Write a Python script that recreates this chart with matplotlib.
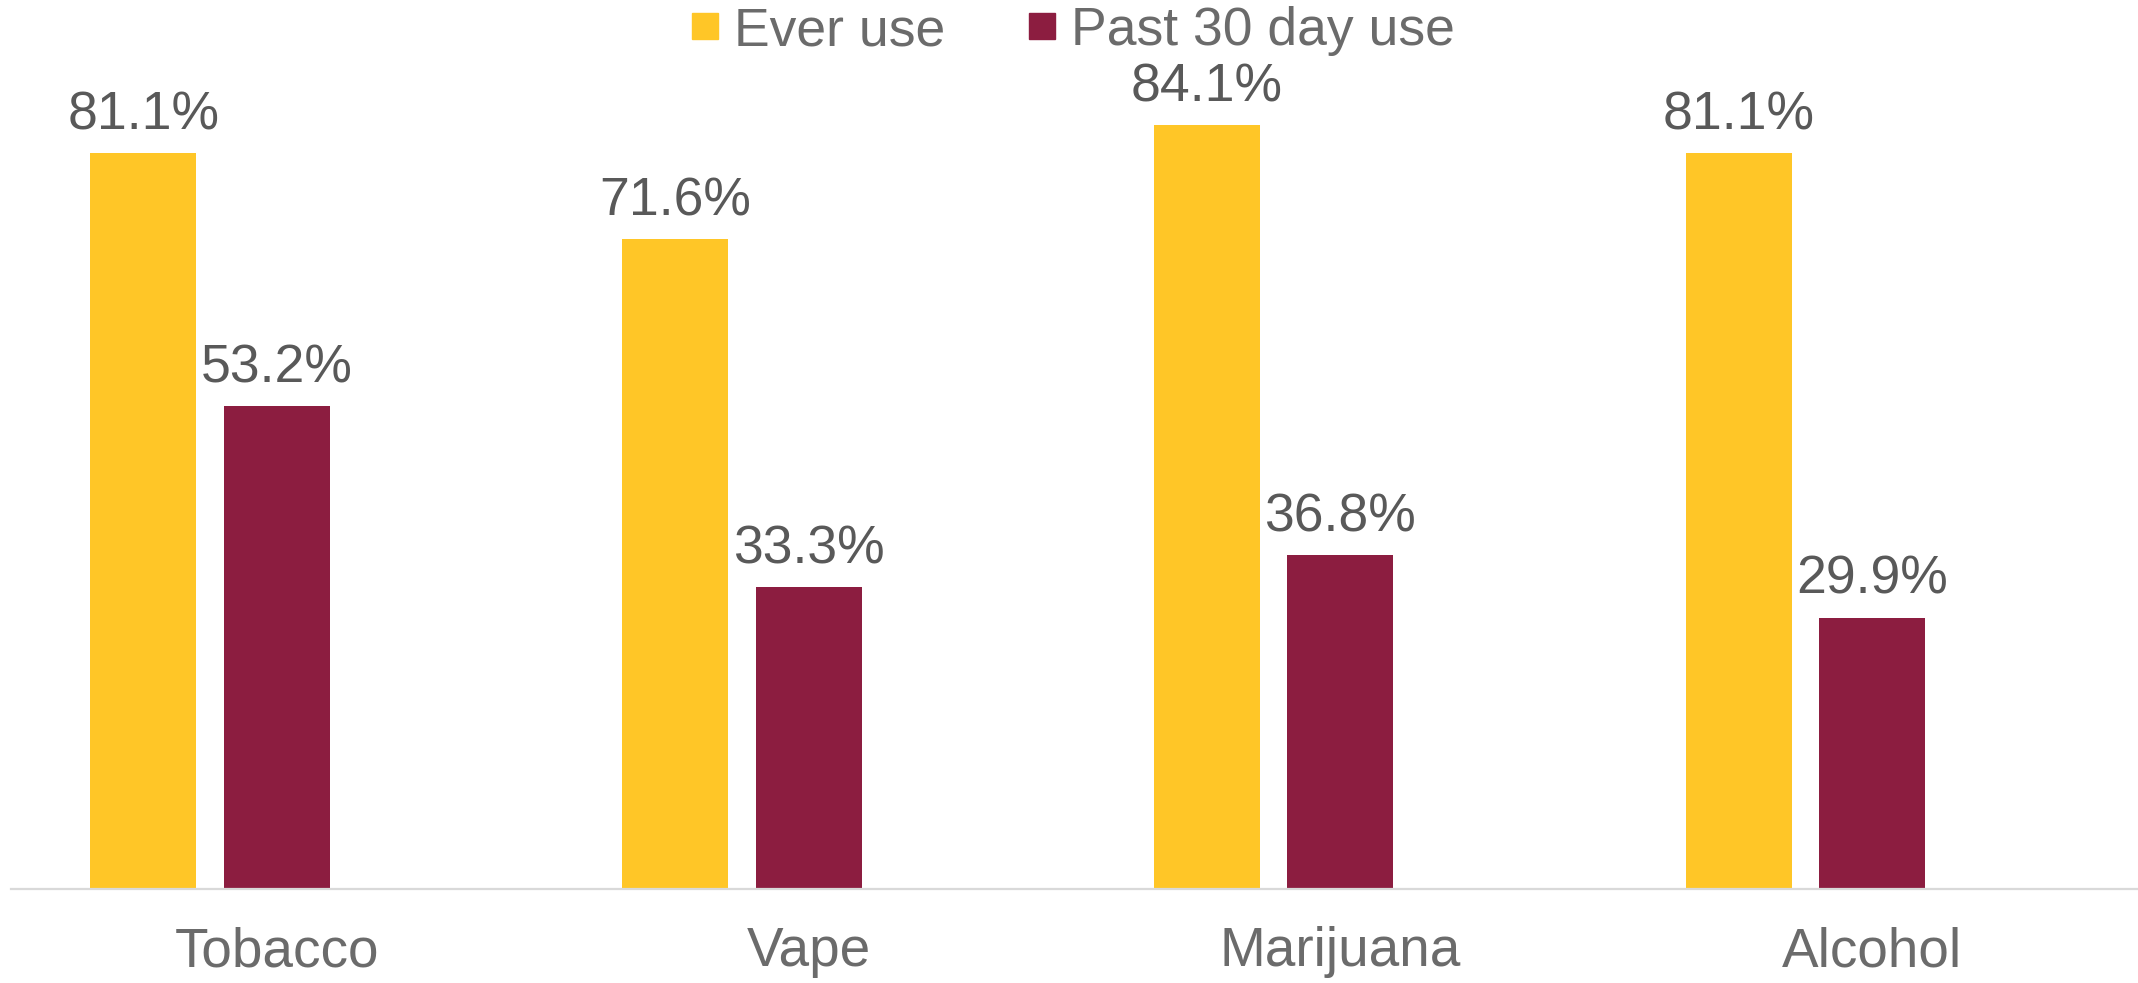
import matplotlib
matplotlib.use("Agg")
import matplotlib.pyplot as plt
from matplotlib.lines import Line2D
import numpy as np

categories = ["Tobacco", "Vape", "Marijuana", "Alcohol"]
ever_use = [81.1, 71.6, 84.1, 81.1]
past30_use = [53.2, 33.3, 36.8, 29.9]
series_names = ["Ever use", "Past 30 day use"]

GOLD = "#FFC627"
MAROON = "#8C1D40"
VAL_COLOR = "#595959"
LBL_COLOR = "#6b6b6b"

plt.rcParams['font.family'] = ['Liberation Sans', 'DejaVu Sans']

W, H = 2138, 983
fig = plt.figure(figsize=(W / 100, H / 100), dpi=100)
ax = fig.add_axes([11 / W, 94 / H, 1 - 11 / W, 817.2 / H])

x = np.arange(len(categories))
step = 0.251
bw = 0.1993
b1 = ax.bar(x - step, ever_use, width=bw, color=GOLD, zorder=2)
b2 = ax.bar(x, past30_use, width=bw, color=MAROON, zorder=2)

for bars, vals in ((b1, ever_use), (b2, past30_use)):
    for rect, v in zip(bars, vals):
        ax.annotate(f"{v:.1f}%", (rect.get_x() + rect.get_width() / 2, v),
                    xytext=(0, 17), textcoords="offset points",
                    ha="center", va="baseline", fontsize=38.5, color=VAL_COLOR)

ax.set_xlim(-0.5, 3.5)
ax.set_ylim(0, 90)
ax.set_xticks(x)
ax.set_xticklabels(categories, fontsize=39.5, color=LBL_COLOR)
ax.tick_params(axis="x", length=0, pad=27)
ax.set_yticks([])
for s in ("left", "right", "top"):
    ax.spines[s].set_visible(False)
ax.spines["bottom"].set_color("#d9d9d9")
ax.spines["bottom"].set_linewidth(1.6)

handles = [Line2D([], [], marker="s", linestyle="none", markersize=19,
                  markerfacecolor=c, markeredgecolor=c) for c in (GOLD, MAROON)]
leg = fig.legend(handles, series_names, loc="center", bbox_to_anchor=(1072 / W, 1 - 31 / H),
                 ncol=2, frameon=False, fontsize=38.5, handlelength=0.6,
                 handletextpad=0.25, columnspacing=1.5, borderpad=0)
for t in leg.get_texts():
    t.set_color(LBL_COLOR)

fig.savefig("out.png", dpi=100)
